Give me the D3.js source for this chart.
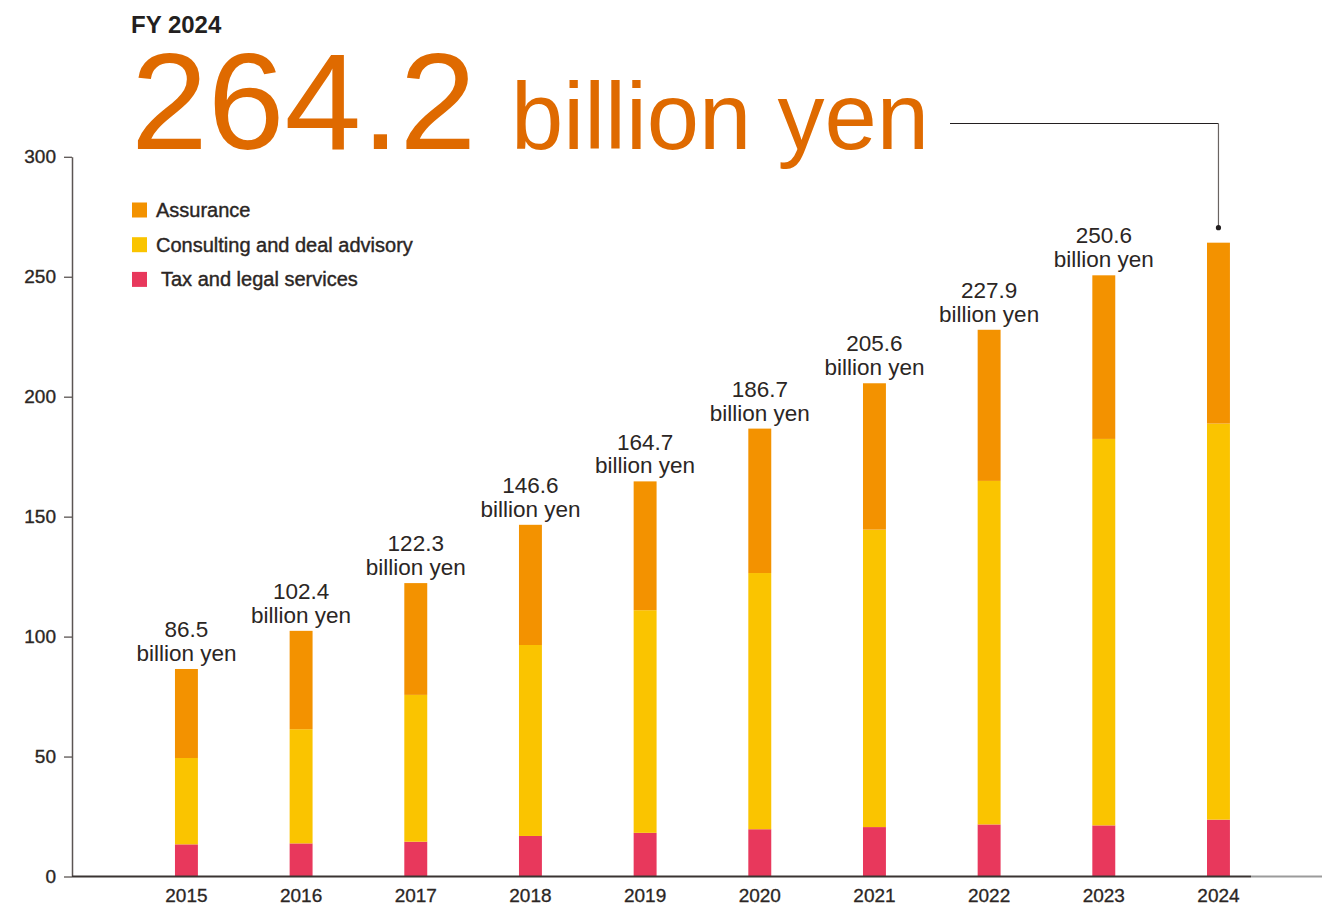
<!DOCTYPE html>
<html>
<head>
<meta charset="utf-8">
<script src="https://cdn.jsdelivr.net/npm/d3@7"></script>
<style>
  html, body { margin: 0; padding: 0; background: #ffffff; }
  svg { display: block; font-family: "Liberation Sans", Arial, Helvetica, sans-serif; }
</style>
</head>
<body>
<svg id="chart" width="1322" height="907"></svg>
<script>
// Revenue by business line, fiscal years 2015–2024 (billion yen)
const years = ["2015", "2016", "2017", "2018", "2019", "2020", "2021", "2022", "2023", "2024"];
const taxLegal   = [13.4, 13.8, 14.5, 16.9, 18.2, 19.7, 20.6, 21.7, 21.3, 23.7];
const consulting = [36.0, 47.6, 61.2, 79.6, 92.8, 106.8, 124.0, 143.2, 161.1, 165.1];
const assurance  = [37.1, 41.0, 46.6, 50.1, 53.7, 60.2, 61.0, 63.0, 68.2, 75.4];
const totals     = [86.5, 102.4, 122.3, 146.6, 164.7, 186.7, 205.6, 227.9, 250.6, 264.2];
const seriesKeys   = ["tax", "consulting", "assurance"];
const legendLabels = ["Assurance", "Consulting and deal advisory", "Tax and legal services"];
const legendKeys   = ["assurance", "consulting", "tax"];
const yTicks = [0, 50, 100, 150, 200, 250, 300];

const colors = { assurance: "#f39200", consulting: "#fac400", tax: "#e8385c" };
const ink = "#2b2624";

const svg = d3.select("#chart");

const rows = years.map((yr, i) => ({
  year: yr, tax: taxLegal[i], consulting: consulting[i], assurance: assurance[i], total: totals[i]
}));

const x = d3.scaleBand().domain(years).range([129.1, 1275.8]).paddingInner(0.8).paddingOuter(0.4);
const y = d3.scaleLinear().domain([0, 300]).range([876.5, 156.8]);

// y axis
const yAxis = svg.append("g")
  .attr("transform", "translate(72,0)")
  .call(d3.axisLeft(y).tickValues(yTicks).tickSize(8).tickSizeOuter(0).tickPadding(8));
yAxis.select(".domain").attr("stroke", "#5b5553").attr("stroke-width", 1.5);
yAxis.selectAll(".tick line").attr("stroke", "#5b5553").attr("stroke-width", 1.3);
yAxis.selectAll(".tick text")
  .attr("fill", ink).attr("font-size", 19)
  .attr("stroke", ink).attr("stroke-width", 0.35)
  .style("font-family", "'Liberation Sans', Arial, sans-serif");

// stacked bars
const stack = d3.stack().keys(seriesKeys)(rows);
svg.append("g").selectAll("g")
  .data(stack).join("g")
  .attr("fill", d => colors[d.key])
  .selectAll("rect")
  .data(d => d).join("rect")
  .attr("x", d => x(d.data.year))
  .attr("width", x.bandwidth())
  .attr("y", d => y(d[1]))
  .attr("height", d => y(d[0]) - y(d[1]));

// x axis baseline with a grey extension past the plot
const xAxis = svg.append("g")
  .attr("transform", `translate(0,${y(0)})`)
  .call(d3.axisBottom(x).tickSize(0).tickPadding(12));
xAxis.select(".domain").attr("d", "M72,0H1251").attr("stroke", "#3a3432").attr("stroke-width", 2);
xAxis.selectAll(".tick text")
  .attr("fill", ink).attr("font-size", 19)
  .attr("stroke", ink).attr("stroke-width", 0.3)
  .style("font-family", "'Liberation Sans', Arial, sans-serif");
svg.append("line")
  .attr("x1", 1251).attr("x2", 1322).attr("y1", y(0)).attr("y2", y(0))
  .attr("stroke", "#9b9b9b").attr("stroke-width", 2);

// value labels over each bar except the latest year
const labelRows = rows.slice(0, rows.length - 1);
const lab = svg.append("g").selectAll("text")
  .data(labelRows).join("text")
  .attr("text-anchor", "middle")
  .attr("fill", ink)
  .attr("font-size", 22.5)
  .attr("x", d => x(d.year) + x.bandwidth() / 2)
  .attr("y", d => y(d.total) - 8);
lab.append("tspan")
  .attr("x", d => x(d.year) + x.bandwidth() / 2)
  .attr("dy", "-1.06em")
  .text(d => d.total.toFixed(1));
lab.append("tspan")
  .attr("x", d => x(d.year) + x.bandwidth() / 2)
  .attr("dy", "1.06em")
  .text("billion yen");

// headline for the latest year
const latest = rows[rows.length - 1];
svg.append("text")
  .attr("x", 131).attr("y", 33)
  .attr("font-size", 24).attr("font-weight", "bold").attr("fill", "#231f20")
  .text("FY " + latest.year);
svg.append("text")
  .attr("x", 131).attr("y", 149)
  .attr("font-size", 138).attr("fill", "#df6a00")
  .text(latest.total.toFixed(1));
svg.append("text")
  .attr("x", 511).attr("y", 149)
  .attr("font-size", 94).attr("fill", "#df6a00")
  .text("billion yen");

// leader from the headline down to the latest bar
const cx = x(latest.year) + x.bandwidth() / 2;
const dotY = y(latest.total) - 15;
svg.append("path")
  .attr("d", `M950,123.5H${cx}`)
  .attr("fill", "none").attr("stroke", "#231f20").attr("stroke-width", 1.2);
svg.append("path")
  .attr("d", `M${cx},123.5V${dotY}`)
  .attr("fill", "none").attr("stroke", "#6a6462").attr("stroke-width", 1.2);
svg.append("circle")
  .attr("cx", cx).attr("cy", dotY).attr("r", 2.6).attr("fill", "#231f20");

// legend
const legend = svg.append("g").selectAll("g")
  .data(legendKeys).join("g")
  .attr("transform", (d, i) => `translate(132,${210 + i * 34.7})`);
legend.append("rect")
  .attr("x", 0).attr("y", -7.5).attr("width", 15).attr("height", 15)
  .attr("fill", d => colors[d]);
legend.append("text")
  .attr("x", (d, i) => i === 2 ? 29 : 24)
  .attr("y", 7)
  .attr("font-size", 20)
  .attr("fill", ink)
  .attr("stroke", ink).attr("stroke-width", 0.4)
  .text((d, i) => legendLabels[i]);
</script>
</body>
</html>
